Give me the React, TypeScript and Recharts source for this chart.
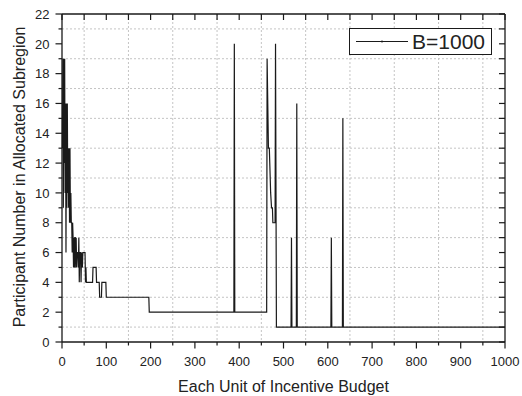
import React from "react";
import {
  LineChart,
  Line,
  XAxis,
  YAxis,
  CartesianGrid,
  Legend,
} from "recharts";

// budget unit (x) and participant number (y), key points
const budgetUnits = [
  1, 2, 3, 4, 5, 6, 7, 8, 9, 10, 11, 12, 13, 14, 15, 16, 17, 18, 19, 20,
  21, 22, 23, 24, 25, 26, 27, 28, 29, 30, 31, 32, 33, 34, 36, 37, 38, 39, 40,
  42, 43, 44, 46, 47, 52, 53, 54, 55, 69, 70, 77, 78, 84, 85, 89, 90, 99, 100,
  196, 197, 388, 389, 390, 462, 463, 464, 466, 468, 469, 471, 473, 475, 476,
  481, 482, 484, 517, 518, 519, 529, 530, 531, 607, 608, 609, 633, 634, 635,
  1000,
];
const participants = [
  13, 19, 9, 19, 12, 19, 10, 16, 6, 16, 9, 16, 10, 13, 9, 13, 8, 13, 8, 10,
  8, 8, 6, 8, 7, 5, 7, 5, 7, 7, 5, 7, 5, 6, 6, 5, 7, 4, 6,
  6, 4, 6, 5, 6, 6, 4, 5, 4, 4, 5, 5, 4, 4, 3, 3, 4, 4, 3,
  3, 2, 2, 20, 2, 2, 19, 17, 13, 13, 12, 10, 9, 9, 8,
  8, 20, 1, 1, 7, 1, 1, 16, 1, 1, 7, 1, 1, 15, 1,
  1,
];

const xTicks = [
  0, 50, 100, 150, 200, 250, 300, 350, 400, 450, 500, 550, 600, 650, 700,
  750, 800, 850, 900, 950, 1000,
];
const yTicks = [
  0, 1, 2, 3, 4, 5, 6, 7, 8, 9, 10, 11, 12, 13, 14, 15, 16, 17, 18, 19, 20,
  21, 22,
];
const xGrid = [50, 150, 250, 350, 450, 550, 650, 750, 850, 950];
const yGrid = [1, 3, 5, 7, 9, 11, 13, 15, 17, 19, 21];

const seriesName = "B=1000";
const xLabel = "Each Unit of Incentive Budget";
const yLabel = "Participant Number in Allocated Subregion";

const data = budgetUnits.map((x, i) => ({ x, y: participants[i] }));

const FONT = "'Liberation Sans', Arial, Helvetica, sans-serif";
const INK = "#1a1a1a";

const BottomTick = (props: any) => {
  const { x, y, payload } = props;
  const major = payload.value % 100 === 0;
  return (
    <g>
      <line x1={x} x2={x} y1={y} y2={y + (major ? 6.5 : 3.5)} stroke={INK} strokeWidth={1.2} />
      {major && (
        <text x={x} y={y + 23.5} textAnchor="middle" fontSize={13} fontFamily={FONT} fill="#222">
          {payload.value}
        </text>
      )}
    </g>
  );
};

const LeftTick = (props: any) => {
  const { x, y, payload } = props;
  const major = payload.value % 2 === 0;
  return (
    <g>
      <line x1={x} x2={x - (major ? 6.5 : 3.5)} y1={y} y2={y} stroke={INK} strokeWidth={1.2} />
      {major && (
        <text x={x - 12.5} y={y + 4.7} textAnchor="end" fontSize={13} fontFamily={FONT} fill="#222">
          {payload.value}
        </text>
      )}
    </g>
  );
};

// top frame ticks point down into the plot
const TopTick = (props: any) => {
  const { x, y } = props;
  return <line x1={x} x2={x} y1={y} y2={y + 6} stroke={INK} strokeWidth={1.2} />;
};

// right frame ticks point left into the plot
const RightTick = (props: any) => {
  const { x, y } = props;
  return <line x1={x} x2={x - 6} y1={y} y2={y} stroke={INK} strokeWidth={1.2} />;
};

const LegendBox = (props: any) => {
  const items = (props.payload || []).filter((p: any) => p.type !== "none");
  const item = items[0];
  return (
    <div
      style={{
        boxSizing: "border-box",
        width: 143,
        height: 27,
        border: `1px solid ${INK}`,
        background: "#fff",
        display: "flex",
        alignItems: "center",
        fontFamily: FONT,
        fontSize: 21,
        color: "#222",
      }}
    >
      <svg width={62} height={25} style={{ display: "block" }}>
        <line x1={6} x2={58} y1={12.5} y2={12.5} stroke={item ? item.color : INK} strokeWidth={1.2} />
        <circle cx={32} cy={12.5} r={1} fill={INK} />
      </svg>
      <span style={{ lineHeight: "25px" }}>{item ? item.value : seriesName}</span>
    </div>
  );
};

export default function App() {
  return (
    <div style={{ position: "absolute", left: 0, top: 0, width: 522, height: 396, background: "#fff" }}>
      <LineChart
        width={522}
        height={396}
        data={data}
        margin={{ top: 13, right: 16, bottom: 0, left: 0 }}
      >
        <CartesianGrid
          horizontalValues={yGrid}
          verticalValues={xGrid}
          stroke="#c4c4c4"
          strokeDasharray="2 2"
        />
        <XAxis
          type="number"
          dataKey="x"
          domain={[0, 1000]}
          ticks={xTicks}
          interval={0}
          height={54}
          tickSize={0}
          tickMargin={0}
          tickLine={false}
          tick={<BottomTick />}
          axisLine={{ stroke: INK, strokeWidth: 1.3 }}
          label={{
            content: (p: any) => {
              const vb = p.viewBox || { x: 62, y: 342, width: 444 };
              return (
                <text
                  x={vb.x + vb.width / 2}
                  y={vb.y + 49.5}
                  textAnchor="middle"
                  fontSize={16}
                  fontFamily={FONT}
                  fill="#222"
                >
                  {xLabel}
                </text>
              );
            },
          }}
        />
        <XAxis
          xAxisId="top"
          orientation="top"
          type="number"
          dataKey="x"
          domain={[0, 1000]}
          allowDataOverflow
          ticks={xTicks}
          interval={0}
          height={1}
          tickSize={0}
          tickMargin={0}
          tickLine={false}
          tick={<TopTick />}
          axisLine={{ stroke: INK, strokeWidth: 1.3 }}
        />
        <YAxis
          type="number"
          domain={[0, 22]}
          ticks={yTicks}
          interval={0}
          width={62}
          tickSize={0}
          tickMargin={0}
          tickLine={false}
          tick={<LeftTick />}
          axisLine={{ stroke: INK, strokeWidth: 1.3 }}
          label={{
            content: (p: any) => {
              const vb = p.viewBox || { x: 0, y: 14, width: 62, height: 328 };
              const cx = 25;
              const cy = vb.y + vb.height / 2 - 1;
              return (
                <text
                  x={cx}
                  y={cy}
                  transform={`rotate(-90, ${cx}, ${cy})`}
                  textAnchor="middle"
                  fontSize={16}
                  fontFamily={FONT}
                  fill="#222"
                >
                  {yLabel}
                </text>
              );
            },
          }}
        />
        <YAxis
          yAxisId="right"
          orientation="right"
          type="number"
          domain={[0, 22]}
          allowDataOverflow
          ticks={yTicks}
          interval={0}
          width={1}
          tickSize={0}
          tickMargin={0}
          tickLine={false}
          tick={<RightTick />}
          axisLine={{ stroke: INK, strokeWidth: 1.3 }}
        />
        <Legend
          layout="horizontal"
          verticalAlign="middle"
          align="center"
          content={<LegendBox />}
          wrapperStyle={{ position: "absolute", left: 349, top: 28, width: 143, height: 27 }}
        />
        <Line
          name={seriesName}
          type="linear"
          dataKey="y"
          stroke={INK}
          strokeWidth={1.2}
          dot={false}
          isAnimationActive={false}
        />
        {/* invisible copy that anchors the mirrored top/right frame axes */}
        <Line
          xAxisId="top"
          yAxisId="right"
          type="linear"
          dataKey="y"
          stroke="none"
          legendType="none"
          dot={false}
          activeDot={false}
          isAnimationActive={false}
        />
      </LineChart>
    </div>
  );
}
